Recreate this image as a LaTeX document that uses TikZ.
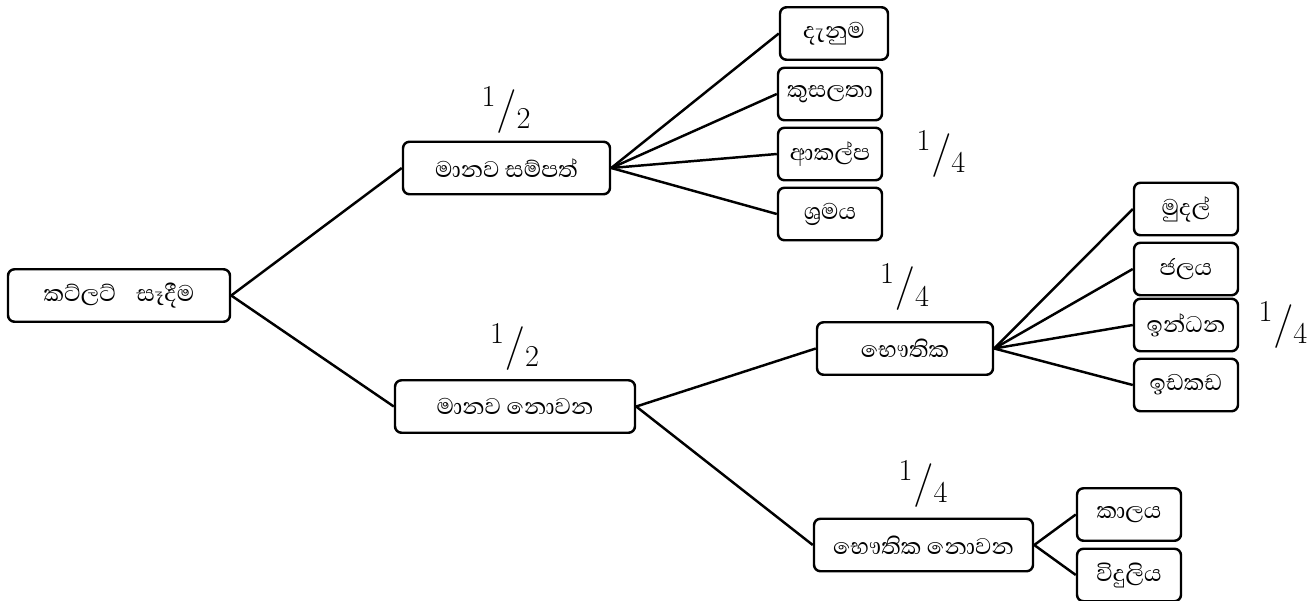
\documentclass[tikz,border=0pt]{standalone}
\usepackage{fontspec}
\newfontfamily\sinhfont[Script=Sinhala]{Abhaya Libre}
\usepackage{tikz}
\usetikzlibrary{positioning}
\newcommand{\frc}[2]{$^{#1}/_{#2}$}

\begin{document}
\begin{tikzpicture}[x=0.2mm, y=-0.2mm,
    box/.style={rectangle, rounded corners=1.3mm, draw=black, line width=1.4pt,
                minimum height=10.5mm, align=center, font=\sinhfont\fontsize{16.5}{20}\selectfont,
                inner sep=2pt},
    leaf/.style={box, minimum width=20.8mm},
    link/.style={line width=1.4pt, black},
    share/.style={font=\fontsize{27}{30}\selectfont, inner sep=0pt},
  ]
    \useasboundingbox (0,0) rectangle (1310,601);
    % root and first level
    \node[box, minimum width=44.4mm] (root) at (119,295.5) {කට්ලට්\hspace{0.7em}සෑදීම};
    \node[box, minimum width=41.4mm] (human) at (506.5,168) {මානව සම්පත්};
    \node[box, minimum width=48mm] (nonhuman) at (515,406.5) {මානව නොවන};
    % human resources
    \node[leaf, minimum width=21.6mm] (know) at (834,33.5) {දැනුම};
    \node[leaf] (skill) at (830,94) {කුසලතා};
    \node[leaf] (attit) at (830,154) {ආකල්ප};
    \node[leaf] (labour) at (830,214) {ශ්‍රමය};
    % non human
    \node[box, minimum width=35.2mm] (phys) at (905,348.5) {භෞතික};
    \node[box, minimum width=43.8mm] (nonphys) at (923.5,545) {භෞතික නොවන};
    \node[leaf] (money) at (1186,209) {මුදල්};
    \node[leaf] (water) at (1186,269) {ජලය};
    \node[leaf] (fuel) at (1186,325) {ඉන්ධන};
    \node[leaf] (space) at (1186,385) {ඉඩකඩ};
    \node[leaf] (time) at (1129,514.5) {කාලය};
    \node[leaf] (power) at (1129,575) {විදුලිය};

    \draw[link] (root.east) -- (human.west);
    \draw[link] (root.east) -- (nonhuman.west);
    \foreach \n in {know,skill,attit,labour}
      \draw[link] (human.east) -- (\n.west);
    \draw[link] (nonhuman.east) -- (phys.west);
    \draw[link] (nonhuman.east) -- (nonphys.west);
    \foreach \n in {money,water,fuel,space}
      \draw[link] (phys.east) -- (\n.west);
    \foreach \n in {time,power}
      \draw[link] (nonphys.east) -- (\n.west);

    % shares
    \node[share, above=1.4mm of human] (h2) {\frc{1}{2}};
    \node[share, above=1.6mm of nonhuman] (n2) {\frc{1}{2}};
    \node[share, right=6.6mm of attit] (a4) {\frc{1}{4}};
    \node[share, above=2mm of phys] (p4) {\frc{1}{4}};
    \node[share, right=3.8mm of fuel] (f4) {\frc{1}{4}};
    \node[share, above=2mm of nonphys] (np4) {\frc{1}{4}};
  \end{tikzpicture}
\end{document}
